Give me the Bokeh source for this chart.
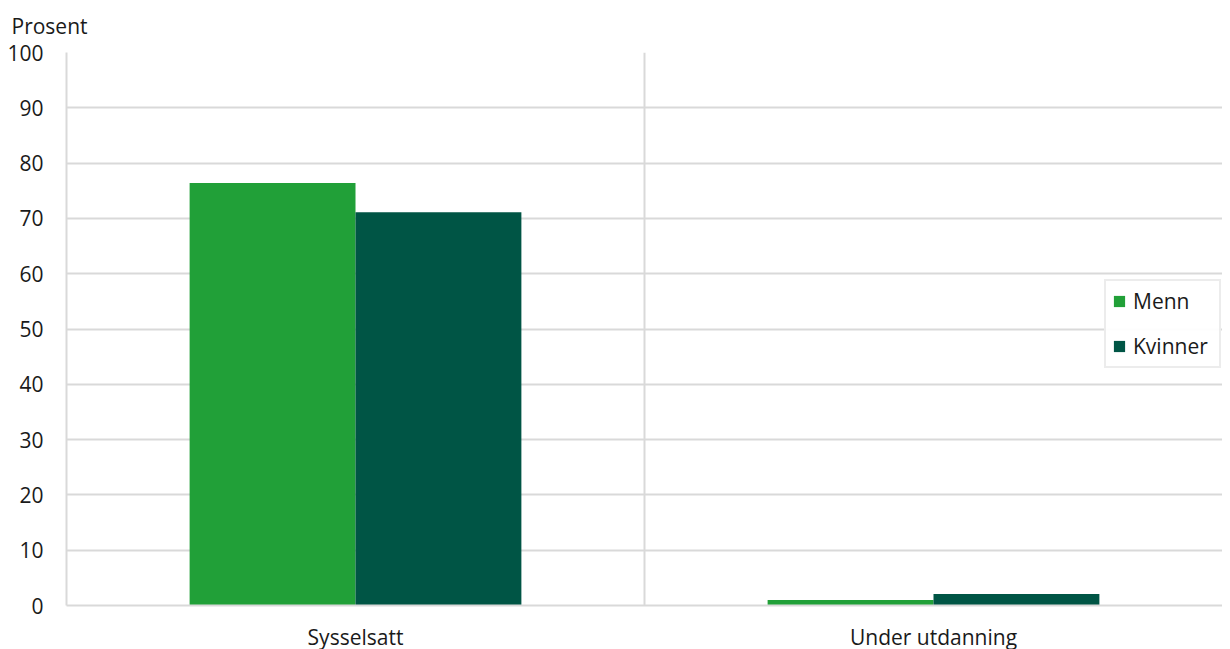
from bokeh.plotting import figure
from bokeh.models import ColumnDataSource, FactorRange, Range1d, Span, Legend, LegendItem, FixedTicker
from bokeh.transform import dodge
from bokeh.embed import file_html
from bokeh.resources import INLINE

categories = ["Sysselsatt", "Under utdanning"]
menn = [76.4, 1.0]
kvinner = [71.1, 2.1]
y_ticks = [0, 10, 20, 30, 40, 50, 60, 70, 80, 90, 100]

FONT = "Open Sans"
GRID = "#d9d9d9"
C_MENN = "#21a038"
C_KVINNER = "#005545"
FS = "21px"

source = ColumnDataSource(dict(cat=categories, menn=menn, kvinner=kvinner))

p = figure(
    x_range=FactorRange(*categories, range_padding=0),
    y_range=Range1d(0, 100),
    frame_width=1156, frame_height=553,
    min_border_left=66, min_border_right=0, min_border_top=52, min_border_bottom=30,
    output_backend="svg", toolbar_location=None,
)
p.outline_line_color = None
p.background_fill_color = "white"

bw = 0.287
r1 = p.vbar(x=dodge("cat", -bw / 2, range=p.x_range), top="menn", width=bw,
            source=source, fill_color=C_MENN, line_color=None)
r2 = p.vbar(x=dodge("cat", bw / 2, range=p.x_range), top="kvinner", width=bw,
            source=source, fill_color=C_KVINNER, line_color=None)

# y axis
p.yaxis.ticker = FixedTicker(ticks=y_ticks)
p.yaxis.axis_line_color = GRID
p.yaxis.axis_line_width = 2
p.yaxis.major_tick_line_color = None
p.yaxis.minor_tick_line_color = None
p.yaxis.major_label_standoff = 17
p.yaxis.major_label_text_font = FONT
p.yaxis.major_label_text_font_size = FS
p.yaxis.major_label_text_color = "#1a1a1a"

# x axis
p.xaxis.axis_line_color = GRID
p.xaxis.axis_line_width = 2
p.xaxis.major_tick_line_color = None
p.xaxis.minor_tick_line_color = None
p.xaxis.major_label_standoff = 11
p.xaxis.major_label_text_line_height = 1.0
p.xaxis.major_label_text_font = FONT
p.xaxis.major_label_text_font_size = FS
p.xaxis.major_label_text_color = "#1a1a1a"

p.ygrid.grid_line_color = GRID
p.ygrid.grid_line_width = 2
p.xgrid.grid_line_color = None

sep = Span(location=1.0, dimension="height", line_color=GRID, line_width=2, level="underlay")
p.add_layout(sep)

p.title.text = "Prosent"
p.title.align = "left"
p.title.vertical_align = "top"
p.title.offset = -55
p.title.standoff = 22
p.title.text_font = FONT
p.title.text_font_size = FS
p.title.text_font_style = "normal"
p.title.text_color = "#1a1a1a"

legend = Legend(
    items=[LegendItem(label="Menn", renderers=[r1]), LegendItem(label="Kvinner", renderers=[r2])],
    location=(1038, 237),
    border_line_color=GRID, border_line_width=2,
    glyph_width=14, glyph_height=14, label_height=20, label_width=80,
    spacing=17, padding=6, margin=0, label_standoff=7,
    label_text_font=FONT, label_text_font_size=FS, label_text_color="#1a1a1a",
)
p.add_layout(legend)

open("out.html", "w").write(file_html(p, INLINE))
